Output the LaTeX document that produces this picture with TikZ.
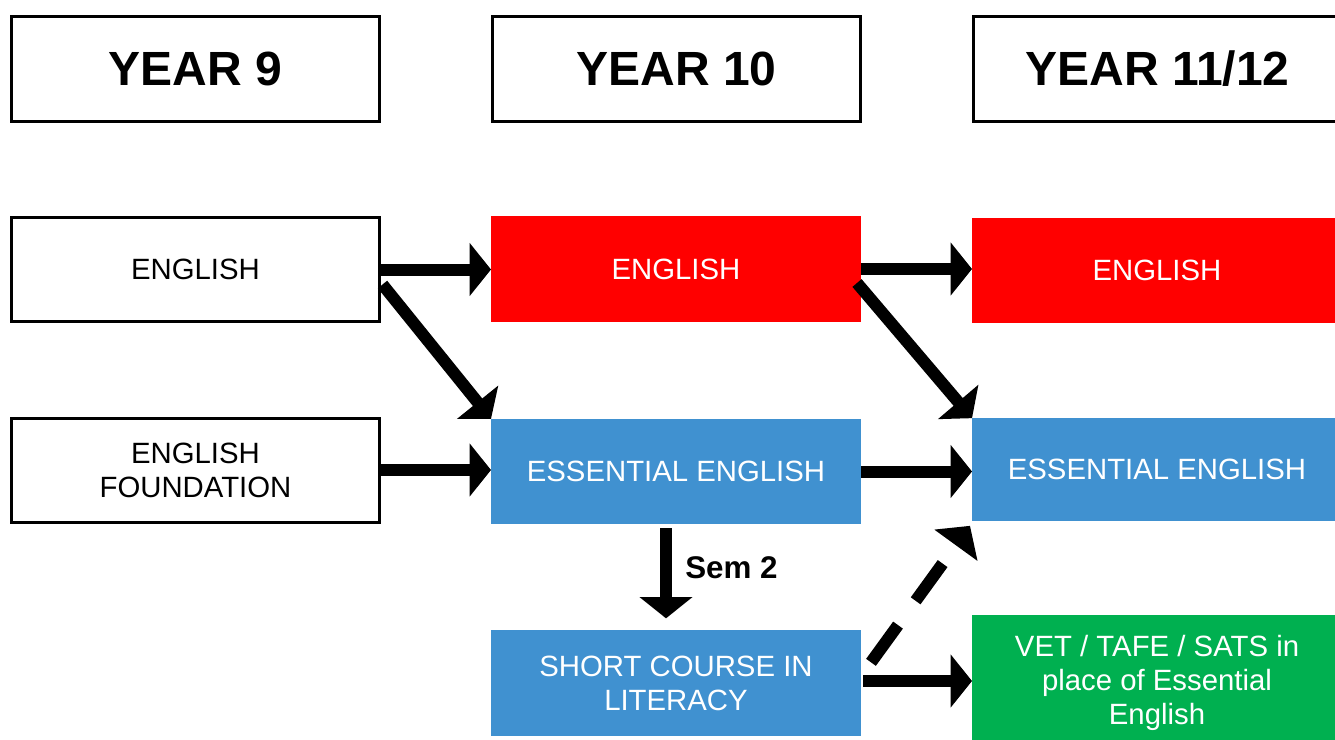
\documentclass[tikz,border=0pt]{standalone}
\usepackage{fontspec}
\setmainfont{Liberation Sans}
\usetikzlibrary{arrows.meta,calc}
\definecolor{engred}{RGB}{255,0,0}
\definecolor{essblue}{RGB}{64,145,208}
\definecolor{vetgreen}{RGB}{0,176,80}
\begin{document}
\begin{tikzpicture}[x=0.75pt,y=-0.75pt,
  headbox/.style={draw=black,line width=2.25pt,fill=white,minimum width=276pt,minimum height=78.75pt,
    inner sep=0pt,outer sep=0pt,font=\fontsize{36}{43}\selectfont\bfseries},
  plainbox/.style={draw=black,line width=2.25pt,fill=white,minimum width=276pt,minimum height=78pt,
    inner sep=0pt,outer sep=0pt,align=center,font=\fontsize{22}{25.5}\selectfont},
  fillbox/.style={fill=#1,text=white,minimum width=277.5pt,minimum height=79pt,
    inner sep=0pt,outer sep=0pt,align=center,font=\fontsize{22}{25.5}\selectfont},
  flow/.style={line width=9pt,-{Triangle[length=16pt,width=39pt]}},
  dashflow/.style={line width=9pt,dash pattern=on 34.5pt off 22.5pt,-{Triangle[length=18pt,width=39pt]}}
]
\useasboundingbox (0,0) rectangle (1335,739);

% column headings
\node[headbox] (h9)  at (195.5,69) {YEAR 9};
\node[headbox] (h10) at (676.5,69) {YEAR 10};
\node[headbox] (h11) at (1157.5,69) {YEAR 11/12};

% year 9 subjects
\node[plainbox] (e9) at (195.5,269.5) {ENGLISH};
\node[plainbox] (f9) at (195.5,470) {ENGLISH\\FOUNDATION};

% year 10 subjects
\node[fillbox=engred]  (e10)   at (676,269)   {ENGLISH};
\node[fillbox=essblue] (ess10) at (676,471.5) {ESSENTIAL ENGLISH};
\node[fillbox=essblue] (sc10)  at (676,683)   {SHORT COURSE IN\\LITERACY};

% year 11/12 subjects
\node[fillbox=engred]  (e11)   at (1157,270.5) {ENGLISH};
\node[fillbox=essblue,minimum height=77pt] (ess11) at (1157,469.5) {ESSENTIAL ENGLISH};
\node[fillbox=vetgreen,minimum height=102pt] (vet11) at (1157,683) {VET / TAFE / SATS in\\place of Essential\\English};

% helper points for the arrow ends
\coordinate (d9)  at ($(e9.east)+(3,15)$);
\coordinate (d10) at ($(e10.east)+(-4,14)$);
\coordinate (sv)  at ($(sc10.east)+(2,-2)$);
\coordinate (sd)  at ($(ess10.south)+(-10,4)$);
\coordinate (se)  at ($(sc10.north)+(-10,-12)$);
\coordinate (ds)  at ($(sc10.north east)+(10,32)$);
\coordinate (de)  at ($(ess11.south west)+(-2,5)$);

% pathways
\draw[flow] (e9.east) -- (e9.east -| e10.west);
\draw[flow] (d9) -- (ess10.north west);
\draw[flow] (f9.east) -- (f9.east -| ess10.west);
\draw[flow] (e10.east) -- (e10.east -| e11.west);
\draw[flow] (d10) -- (ess11.north west);
\draw[flow] (ess10.east) -- (ess10.east -| ess11.west);
\draw[flow] (sv) -- (sv -| vet11.west);
\draw[flow] (sd) -- (se);
\node[anchor=west,inner sep=0pt,font=\fontsize{23.5}{27}\selectfont\bfseries] (sem) at (685,568) {Sem 2};
\draw[dashflow] (ds) -- (de);
\end{tikzpicture}
\end{document}
